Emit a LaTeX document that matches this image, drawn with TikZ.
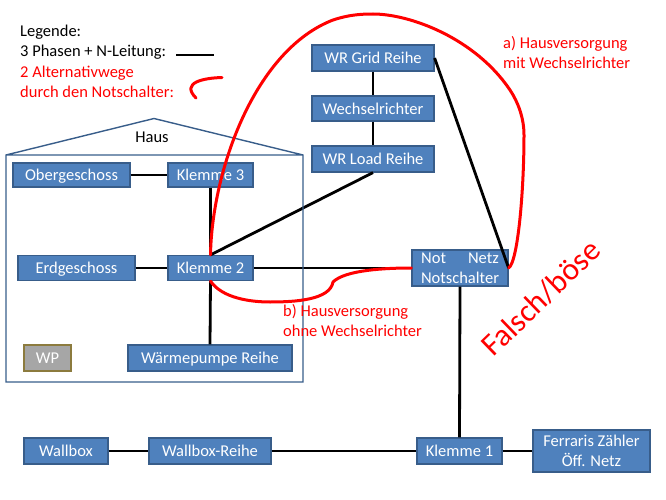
\documentclass[tikz,border=0pt]{standalone}
\usepackage{fontspec}
\setmainfont{Carlito}
\definecolor{boxfill}{HTML}{4F81BD}
\definecolor{boxline}{HTML}{385D8A}
\definecolor{wpline}{HTML}{8C7B3E}
\definecolor{redline}{HTML}{FF0000}
\tikzset{
  blktwo/.style={draw=boxline,fill=boxfill,line width=1.2pt,text=white,font=\fontsize{16.5}{20}\selectfont,inner sep=0pt,align=center},
  blk/.style={blktwo,text height=12pt,text depth=1pt},
  wire/.style={draw=black,line width=2.8pt},
  redwire/.style={draw=redline,line width=3pt,line cap=round,line join=round},
  legendtext/.style={anchor=west,inner sep=0pt,font=\fontsize{16.5}{20}\selectfont},
  redtext/.style={legendtext,text=redline,align=left},
}
\begin{document}
\begin{tikzpicture}[x=1pt,y=-1pt]
\useasboundingbox (0,0) rectangle (666,500);
% nodes
\node[blk,minimum width=117pt,minimum height=24pt] (ober) at (71.5,175) {Obergeschoss};
\node[blk,minimum width=85pt,minimum height=24pt] (k3) at (210.5,175) {Klemme 3};
\node[blk,minimum width=117pt,minimum height=25pt] (erd) at (76.5,268) {Erdgeschoss};
\node[blk,minimum width=85pt,minimum height=25pt] (k2) at (210.5,268) {Klemme 2};
\node[blk,draw=wpline,fill=black!35!white,minimum width=47pt,minimum height=26pt] (wp) at (47.5,358) {WP};
\node[blk,minimum width=164pt,minimum height=26pt] (wpr) at (210,358) {Wärmepumpe Reihe};
\node[blk,minimum width=84pt,minimum height=26pt] (wb) at (66,451) {Wallbox};
\node[blk,minimum width=122pt,minimum height=26pt] (wbr) at (210,451) {Wallbox-Reihe};
\node[blk,minimum width=122pt,minimum height=26pt] (grid) at (373,58) {WR Grid Reihe};
\node[blk,minimum width=122pt,minimum height=25pt] (wr) at (373,108.5) {Wechselrichter};
\node[blk,minimum width=122pt,minimum height=26pt] (load) at (373,159) {WR Load Reihe};
\node[blktwo,minimum width=96pt,minimum height=36pt] (not) at (460,268) {Not\hspace{22pt}Netz\\Notschalter};
\node[blk,minimum width=85pt,minimum height=26pt] (k1) at (459.5,451) {Klemme 1};
\node[blktwo,minimum width=117pt,minimum height=42pt] (zaehler) at (591.5,451) {Ferraris Zähler\\Öff. Netz};
% wires
\draw[wire] (ober) -- (k3);
\draw[wire] (k3.south) -- (k2.north);
\draw[wire] (erd) -- (k2);
\draw[wire] (k2.south) -- (wpr.north);
\draw[wire] (k2) -- (not);
\draw[wire] (k2.north) -- (load.south);
\draw[wire] (grid) -- (wr);
\draw[wire] (wr) -- (load);
\draw[wire] (grid.east) -- (not.east);
\draw[wire] (not.south) -- (k1.north);
\draw[wire] (wb) -- (wbr);
\draw[wire] (wbr) -- (k1);
\draw[wire] (k1) -- (zaehler);
% house
\draw[draw=boxline,line width=1.4pt,line join=miter] (6,155) -- (154,118.5) -- (303,155) -- (303,382) -- (6,382) -- cycle (6,155) -- (303,155);
\node[inner sep=0pt,font=\fontsize{16.5}{20}\selectfont] (haus) at (152,137) {Haus};
% red routes
\draw[redwire] (k2.north) .. controls (212,170) and (255,50) .. (333,20)
  .. controls (348,15) and (360,14) .. (373,14)
  .. controls (410,14) and (475,38) .. (510,90)
  .. controls (518,102) and (524,118) .. (524,135)
  .. controls (524,190) and (518,262) .. (not.east);
\draw[redwire] (k2.south) .. controls (222,298) and (250,302) .. (270,302)
  .. controls (295,302) and (330,300) .. (333,282)
  .. controls (345,270) and (385,268) .. (not.west);
% legend
\node[legendtext] (l1) at (20,32) {Legende:};
\node[legendtext] (l2) at (20,52) {3 Phasen + N-Leitung:};
\node[redtext] (l3) at (20,82) {2 Alternativwege\\durch den Notschalter:};
\coordinate (la) at (176,55);
\coordinate (lb) at (214,55);
\draw[wire] (la) -- (lb);
\coordinate (ra) at (222,77.5);
\coordinate (rb) at (196,98);
\draw[redwire] (ra) .. controls (205,78) and (180,82) .. (rb);
% labels
\node[redtext] (ta) at (503,53) {a) Hausversorgung\\mit Wechselrichter};
\node[redtext] (tb) at (283,321) {b) Hausversorgung\\ohne Wechselrichter};
\node[inner sep=0pt,text=redline,rotate=44,font=\fontsize{31.5}{36}\selectfont] (falsch) at (541,298) {Falsch/böse};
\end{tikzpicture}
\end{document}
